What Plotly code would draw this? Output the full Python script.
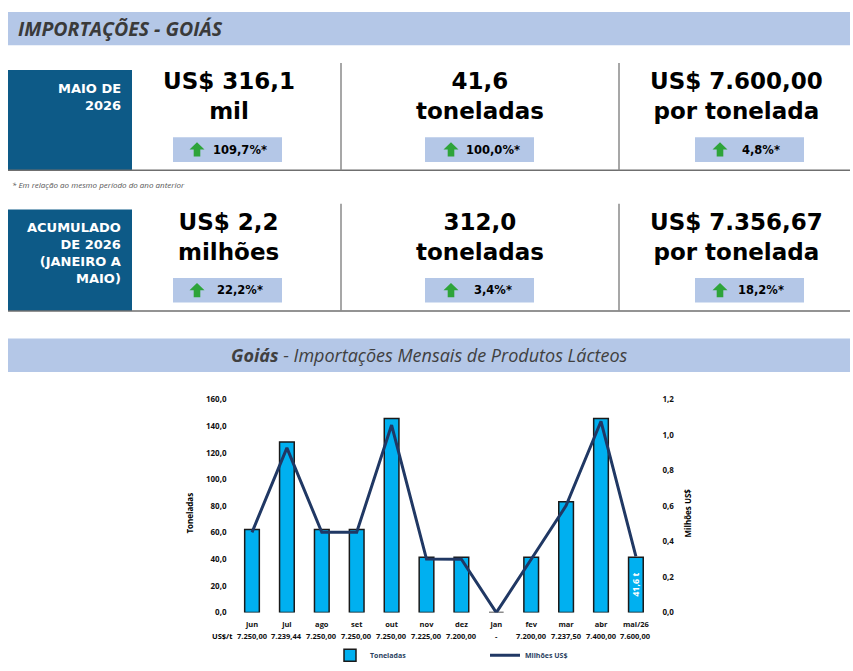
import plotly.graph_objects as go

# ---------------- data ----------------
months = ["jun", "jul", "ago", "set", "out", "nov", "dez", "jan", "fev", "mar", "abr", "mai/26"]
toneladas = [62.4, 128.0, 62.4, 62.4, 145.6, 41.6, 41.6, 0.0, 41.6, 83.2, 145.6, 41.6]
milhoes_usd = [0.452, 0.927, 0.452, 0.452, 1.056, 0.301, 0.300, 0.0, 0.300, 0.602, 1.077, 0.316]
preco_t = ["7.250,00", "7.239,44", "7.250,00", "7.250,00", "7.250,00", "7.225,00", "7.200,00",
           "-", "7.200,00", "7.237,50", "7.400,00", "7.600,00"]
last_bar_label = "41,6 t"

kpi_row1 = [("US$ 316,1", "mil", "109,7%*"),
            ("41,6", "toneladas", "100,0%*"),
            ("US$ 7.600,00", "por tonelada", "4,8%*")]
kpi_row2 = [("US$ 2,2", "milhões", "22,2%*"),
            ("312,0", "toneladas", "3,4%*"),
            ("US$ 7.356,67", "por tonelada", "18,2%*")]

# ---------------- helpers ----------------
W, H = 853, 671
def X(px): return px / W
def Y(py): return 1 - py / H

LIGHT = "#B4C7E7"
DARK = "#0D5A87"
GREEN = "#2EA43A"
BIG_FONT = "DejaVu Sans"

shapes = []
annotations = []

def rect(x0, y0, x1, y1, color):
    shapes.append(dict(type="rect", xref="paper", yref="paper",
                       x0=X(x0), x1=X(x1), y0=Y(y1), y1=Y(y0),
                       fillcolor=color, line=dict(width=0), layer="below"))

def line(x0, y0, x1, y1, color="#7f7f7f", w=1.5):
    shapes.append(dict(type="line", xref="paper", yref="paper",
                       x0=X(x0), x1=X(x1), y0=Y(y0), y1=Y(y1),
                       line=dict(color=color, width=w)))

def text(px, py, s, size, color="black", xanchor="center", family=BIG_FONT,
         weight="bold", style="normal", angle=0, align="center"):
    annotations.append(dict(x=X(px), y=Y(py), xref="paper", yref="paper", text=s,
                            showarrow=False, xanchor=xanchor, yanchor="middle",
                            textangle=angle, align=align,
                            font=dict(size=size, color=color, family=family,
                                      weight=weight, style=style)))

def arrow(cx, cy):
    pts = [(cx - 7.5, cy), (cx, cy - 7.5), (cx + 7.5, cy), (cx + 3.3, cy),
           (cx + 3.3, cy + 7), (cx - 3.3, cy + 7), (cx - 3.3, cy)]
    path = "M " + " L ".join(f"{X(a):.5f},{Y(b):.5f}" for a, b in pts) + " Z"
    shapes.append(dict(type="path", xref="paper", yref="paper", path=path,
                       fillcolor=GREEN, line=dict(width=0)))

# header
rect(8, 6, 850, 40, LIGHT)
text(16, 23, "IMPORTAÇÕES - GOIÁS", 19.5, color="#3a3a3a", xanchor="left",
     family="Open Sans", weight="bold", style="italic")

# KPI rows
col_centers = [229, 480, 736]
badge_x = [(173, 282), (425, 534), (695, 804)]
arrow_x = [197, 451, 720]
text_x = [240, 493, 761]

def kpi_row(top, bottom, box_top, box_text, box_y, mid_y, badge_y, rows):
    rect(8, box_top, 132, bottom, DARK)
    text(123, box_y, box_text, 13, color="white", xanchor="right", align="right")
    line(8, bottom, 850, bottom, "#6f6f6f", 1.5)
    line(341, top, 341, bottom, "#8a8a8a", 1.5)
    line(619, top, 619, bottom, "#8a8a8a", 1.5)
    for i, (a, b, pct) in enumerate(rows):
        text(col_centers[i], mid_y, f"{a}<br>{b}", 23)
        bx0, bx1 = badge_x[i]
        rect(bx0, badge_y - 12.5, bx1, badge_y + 12.5, LIGHT)
        arrow(arrow_x[i], badge_y)
        text(text_x[i], badge_y, pct, 11.5)

kpi_row(58, 167, 65, "MAIO DE<br>2026", 93, 92, 146, kpi_row1)
text(10, 181, "* Em relação ao mesmo período do ano anterior", 8, color="#555555",
     xanchor="left", family="Open Sans", weight="normal", style="italic")
kpi_row(201, 310, 207, "ACUMULADO<br>DE 2026<br>(JANEIRO A<br>MAIO)", 251, 235, 289, kpi_row2)

# chart title bar
rect(8, 338, 850, 372, LIGHT)
text(429, 355, "<b>Goiás</b> - Importações Mensais de Produtos Lácteos", 18,
     color="#404040", family="Open Sans", weight="normal", style="italic")

# axis titles / extra labels
text(190, 516, "Toneladas", 8, family="Open Sans", angle=-90)
text(688, 516, "Milhões US$", 8, family="Open Sans", angle=-90)
text(222, 641, "US$/t", 7.5, family="Open Sans")

fig = go.Figure()
fig.add_trace(go.Bar(
    x=months, y=toneladas, name="Toneladas", width=0.42,
    marker=dict(color="#00B0F0", line=dict(color="#1a1a1a", width=1.5)),
))
fig.add_trace(go.Scatter(
    x=months, y=milhoes_usd, name="Milhões US$", yaxis="y2", mode="lines",
    line=dict(color="#203864", width=3),
))
# label inside the last bar, placed at half its height
annotations.append(dict(x=months[-1], y=toneladas[-1] / 2, xref="x", yref="y",
                        text=last_bar_label, showarrow=False, textangle=-90,
                        font=dict(color="white", size=9, family="Open Sans", weight="bold")))
# price-per-tonne row under the month labels
for m, p in zip(months, preco_t):
    annotations.append(dict(x=m, y=Y(641), xref="x", yref="paper", text=p,
                            showarrow=False, yanchor="middle",
                            font=dict(size=7.5, family="Open Sans", weight="bold", color="#111")))

x0p, x1p = 234.5, 653.4
fig.update_layout(
    width=W, height=H, margin=dict(l=0, r=0, t=0, b=0),
    paper_bgcolor="white", plot_bgcolor="white",
    separators=",.",
    showlegend=True,
    legend=dict(orientation="h", x=X(330), y=Y(660), xanchor="left", yanchor="middle",
                font=dict(size=7, family="Open Sans", weight="bold"),
                entrywidth=110, entrywidthmode="pixels", itemwidth=30,
                bgcolor="rgba(0,0,0,0)"),
    xaxis=dict(domain=[X(x0p), X(x1p)], type="category", tickvals=months,
               ticktext=[f"<b>{m}</b>" for m in months], ticklabelstandoff=6,
               showgrid=False, showline=False, ticks="",
               tickfont=dict(size=7.5, family="Open Sans", color="#111")),
    yaxis=dict(range=[0, 160], domain=[Y(616.7), Y(400)], tickvals=list(range(0, 161, 20)),
               tickformat=".1f", showgrid=False, zeroline=False, showline=False, ticks="",
               ticklabelstandoff=7,
               tickfont=dict(size=8, family="Open Sans", weight="bold", color="#111")),
    yaxis2=dict(range=[0, 1.2], overlaying="y", side="right",
                tickvals=[0, 0.2, 0.4, 0.6, 0.8, 1.0, 1.2], ticklabelstandoff=8,
                tickformat=".1f", showgrid=False, zeroline=False, showline=False, ticks="",
                tickfont=dict(size=8, family="Open Sans", weight="bold", color="#111")),
    shapes=shapes, annotations=annotations,
)

fig.write_html("out.html", config={"displayModeBar": False},
               post_script="document.body.style.margin='0';document.body.style.overflow='hidden';")
